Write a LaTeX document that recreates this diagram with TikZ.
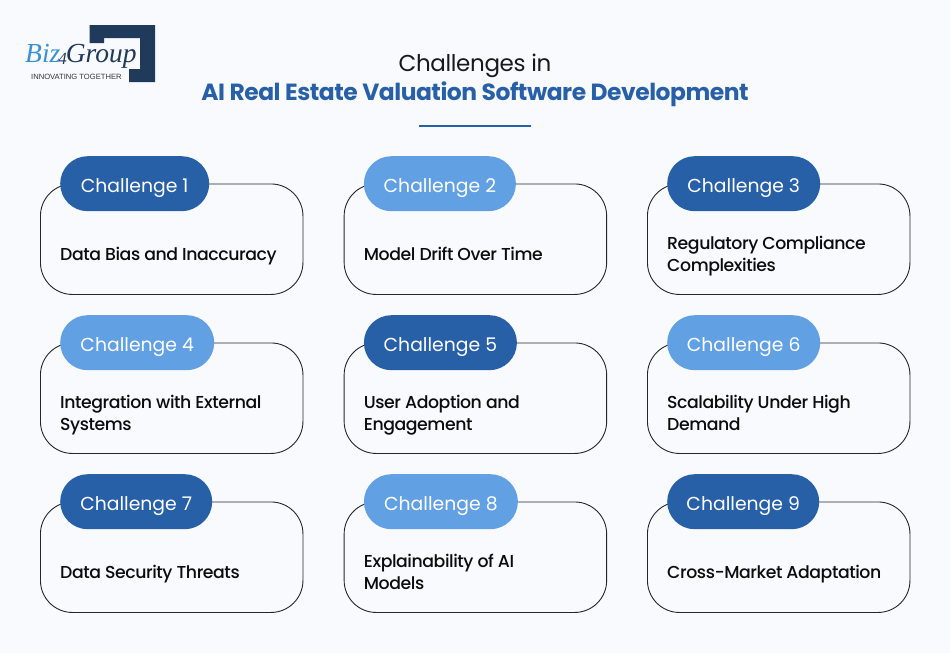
\documentclass[tikz,border=0pt]{standalone}
\usepackage{fontspec}
\setmainfont{Poppins}
\newfontfamily\logofont{Liberation Serif}
\newfontfamily\logosans{Liberation Sans}
\newfontfamily\medfont[LetterSpace=-2.5]{Poppins Medium}
\definecolor{bgc}{HTML}{F8FAFD}
\definecolor{darkb}{HTML}{2860A8}
\definecolor{lightb}{HTML}{62A0E4}
\definecolor{logod}{HTML}{1F3A5A}
\definecolor{logol}{HTML}{3E8FD0}
\definecolor{ink}{HTML}{0C0C0C}
\tikzset{
 x=1pt,y=-1pt,
 card/.style={draw=black!85,line width=0.9pt,rounded corners=32pt,minimum width=262.5pt,minimum height=110.5pt,inner sep=0pt,anchor=north west},
 pill/.style={rounded corners=27.5pt,minimum height=55pt,inner sep=0pt,text=white,text height=17pt,text depth=0pt,font=\fontsize{18.8}{22}\selectfont,anchor=north west},
 desc/.style={anchor=west,align=left,text=ink,font=\medfont\fontsize{17.3}{22}\selectfont,inner sep=0pt},
}
\newcommand{\chal}[8]{%
 \node[card] (card#1) at (#2,#3) {};
 \node[pill,fill=#5,minimum width=#4pt] (pill#1) at (#2+20,#3-27.5) {#6};
 \node[desc] (desc#1) at (#2+20,#7) {\strut #8\strut};
}
\begin{document}
\begin{tikzpicture}
\useasboundingbox (0,0) rectangle (950,653);
\fill[bgc] (0,0) rectangle (950,653);
% logo
\fill[logod] (89.5,25) -- (155,25) -- (155,82) -- (129,82) -- (129,69) -- (140,69) -- (140,38) -- (104,38) -- (104,43) -- (89.5,43) -- cycle;
\node[anchor=base west,inner sep=0pt,font=\logofont\itshape\fontsize{27.5}{29}\selectfont,text=logod] (logoword) at (25,62) {\textcolor{logol}{Biz}\kern-2pt\textcolor{logod}{\raisebox{-2pt}{\fontsize{17}{18}\selectfont 4}}\kern-1pt Group};
\node[anchor=base west,inner sep=0pt,font=\logosans\fontsize{7.6}{9}\selectfont,text=black!80] (logotag) at (31,79.5) {INNOVATING TOGETHER};
% title
\node[anchor=base,font=\fontsize{23}{28}\selectfont\addfontfeatures{LetterSpace=-1.5},text=black!90,inner sep=0pt] (title1) at (475,71) {Challenges in};
\node[anchor=base,font=\bfseries\fontsize{23.4}{28}\selectfont\addfontfeatures{LetterSpace=-2},text=darkb,inner sep=0pt] (title2) at (475,100) {AI Real Estate Valuation Software Development};
\coordinate (ruleL) at (419,126);
\coordinate (ruleR) at (531,126);
\draw[darkb,line width=1.4pt] (ruleL) -- (ruleR);
% cards
\chal{1}{40}{183.5}{149}{darkb}{Challenge 1}{255.6}{Data Bias and Inaccuracy}
\chal{2}{343.7}{183.5}{152}{lightb}{Challenge 2}{255.6}{Model Drift Over Time}
\chal{3}{647}{183.5}{153}{darkb}{Challenge 3}{255.6}{Regulatory Compliance\\Complexities}
\chal{4}{40}{342.5}{154}{lightb}{Challenge 4}{414.6}{Integration with External\\Systems}
\chal{5}{343.7}{342.5}{153}{darkb}{Challenge 5}{414.6}{User Adoption and\\Engagement}
\chal{6}{647}{342.5}{153}{lightb}{Challenge 6}{414.6}{Scalability Under High\\Demand}
\chal{7}{40}{501.5}{152}{darkb}{Challenge 7}{573.6}{Data Security Threats}
\chal{8}{343.7}{501.5}{154}{lightb}{Challenge 8}{573.6}{Explainability of AI\\Models}
\chal{9}{647}{501.5}{152}{darkb}{Challenge 9}{573.6}{Cross-Market Adaptation}
\end{tikzpicture}
\end{document}
